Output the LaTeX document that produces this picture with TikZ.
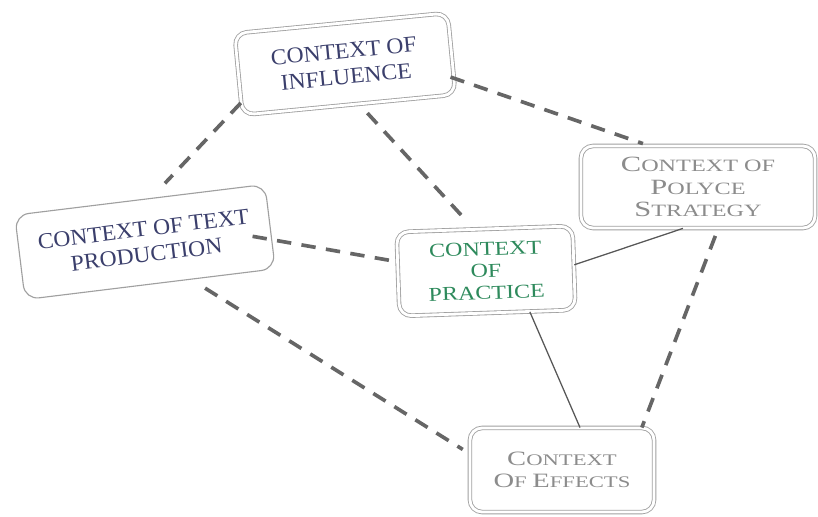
\documentclass[tikz,border=0pt]{standalone}
\usepackage{fontspec}
\setmainfont{Liberation Serif}
\newfontfamily\wideserif[FakeStretch=1.05]{Liberation Serif}
\newfontfamily\widerserif[FakeStretch=1.22]{Liberation Serif}
\newfontfamily\widestserif[FakeStretch=1.4]{Liberation Serif}
\usetikzlibrary{positioning,calc}

\definecolor{ctxblue}{HTML}{3B3F6C}
\definecolor{ctxgreen}{HTML}{2E8A5C}
\definecolor{ctxgrey}{HTML}{8C8C8C}
\definecolor{ctxline}{HTML}{A0A0A0}
\definecolor{linkgrey}{HTML}{666666}

% big first letter, smaller rest
\newcommand{\capword}[2]{{\fontsize{14.5}{15.6}\selectfont #1}{\fontsize{11.5}{15.6}\selectfont #2}}
\newcommand{\capwordl}[2]{{\fontsize{15.5}{15.6}\selectfont #1}{\fontsize{12.3}{15.6}\selectfont #2}}

\begin{document}
\begin{tikzpicture}[
  x=0.025cm, y=-0.025cm,
  ctx/.style={rectangle, rounded corners=0.3cm, draw=ctxline, double=white, double distance=2pt, line width=0.6pt, fill=white, inner sep=0pt, align=center},
  ctxsoft/.style={rectangle, rounded corners=0.35cm, draw=ctxline, line width=0.8pt, fill=white, inner sep=0pt, align=center},
  dashlink/.style={draw=linkgrey, line width=2.6pt, dash pattern=on 0.36cm off 0.26cm},
  link/.style={draw=linkgrey!85!black, line width=0.9pt}
]
  \useasboundingbox (0,0) rectangle (818,517);

  \node[ctx, rotate=5.5, minimum width=5.35cm, minimum height=2.05cm,
        font=\wideserif\fontsize{16}{18.6}\selectfont, text=ctxblue] (infl) at (345,64) {CONTEXT OF\\INFLUENCE};
  \node[ctx, minimum width=5.85cm, minimum height=2.05cm,
        font=\widestserif\fontsize{15.5}{16}\selectfont, text=ctxgrey] (poly) at (698,187)
        {\capwordl{C}{ONTEXT OF}\\\capwordl{P}{OLYCE}\\\capwordl{S}{TRATEGY}};
  \node[ctxsoft, rotate=7, minimum width=6.3cm, minimum height=2.125cm,
        font=\wideserif\fontsize{16}{18.4}\selectfont, text=ctxblue] (prod) at (145,242) {CONTEXT OF TEXT\\PRODUCTION};
  \node[ctx, rotate=2, minimum width=4.4cm, minimum height=2.1cm,
        font=\widerserif\fontsize{14}{15.6}\selectfont, text=ctxgreen] (prac) at (486,271) {CONTEXT\\OF\\PRACTICE};
  \node[ctx, minimum width=4.6cm, minimum height=2.1cm,
        font=\widestserif\fontsize{14.5}{16}\selectfont, text=ctxgrey] (eff) at (562,470)
        {\capword{C}{ONTEXT}\\\capword{O}{F }\capword{E}{FFECTS}};

  \draw[dashlink, shorten >=0.5cm] (infl.-165) -- (prod.75);
  \draw[dashlink, shorten <=0.3cm, shorten >=0.3cm] (infl.-76) -- (prac.104);
  \draw[dashlink, shorten <=-0.1cm, shorten >=0.15cm] (infl.-13) -- (poly.140);
  \draw[dashlink, shorten <=-0.5cm] (prod.-6) -- (prac.172);
  \draw[dashlink, shorten <=0.4cm, shorten >=0.2cm] (prod.-46) -- (eff.170);
  \draw[dashlink, shorten <=0.2cm] (poly.-64) -- (eff.28);
  \draw[link] (prac.2) -- (poly.-110);
  \draw[link] (prac.-45) -- (eff.67);
\end{tikzpicture}
\end{document}
